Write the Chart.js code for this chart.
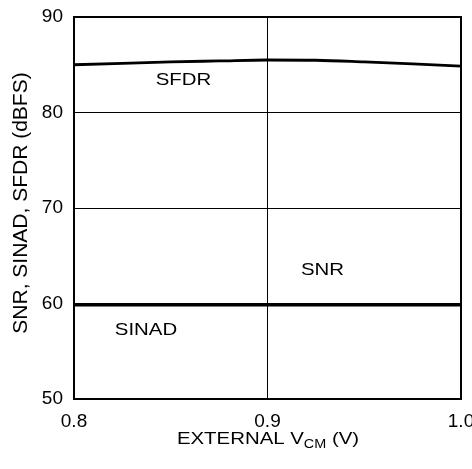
<!DOCTYPE html>
<html>
<head>
<meta charset="utf-8">
<script src="https://cdn.jsdelivr.net/npm/chart.js@4"></script>
<style>
  html, body { margin: 0; padding: 0; background: #fff; }
  canvas { display: block; }
</style>
</head>
<body>
<canvas id="snr-vcm" width="472" height="469"></canvas>
<script>
// values
const vcm = [0.80, 0.825, 0.85, 0.875, 0.90, 0.925, 0.95, 0.975, 1.00];
const sfdr = [85.0, 85.15, 85.3, 85.4, 85.5, 85.47, 85.3, 85.1, 84.85];
const snr = [59.9, 59.9, 59.9, 59.9, 59.9, 59.9, 59.9, 59.9, 59.9];
const sinad = [59.85, 59.85, 59.85, 59.85, 59.85, 59.85, 59.85, 59.85, 59.85];
const xTicks = [0.8, 0.9, 1.0];
const yTicks = [50, 60, 70, 80, 90];

// curve names written on the plot, at data coordinates
const curveLabels = [
  { text: 'SFDR', x: 0.8566, y: 83.4 },
  { text: 'SNR', x: 0.9284, y: 63.5 },
  { text: 'SINAD', x: 0.8372, y: 57.2 }
];

const FONT = "'Liberation Sans', Arial, Helvetica, sans-serif";

function points(xs, ys) {
  let out = [];
  for (let i = 0; i < xs.length; i++) {
    out.push({ x: xs[i], y: ys[i] });
  }
  return out;
}

// draws text a bit wider than the font, like the scanned figure
function wideText(ctx, text, x, y, size, stretch) {
  ctx.save();
  ctx.font = size + 'px ' + FONT;
  ctx.translate(x, y);
  ctx.scale(stretch, 1);
  ctx.fillText(text, 0, 0);
  ctx.restore();
}

const annotate = {
  id: 'annotate',
  afterDraw(chart) {
    const ctx = chart.ctx;
    const area = chart.chartArea;
    const xs = chart.scales.x;
    const ys = chart.scales.y;

    // frame
    ctx.save();
    ctx.strokeStyle = '#000';
    ctx.lineWidth = 2;
    ctx.strokeRect(area.left, area.top, area.right - area.left, area.bottom - area.top);
    ctx.restore();

    ctx.save();
    ctx.fillStyle = '#000';
    ctx.textAlign = 'center';
    ctx.textBaseline = 'middle';
    curveLabels.forEach(function (l) {
      wideText(ctx, l.text, xs.getPixelForValue(l.x), ys.getPixelForValue(l.y), 17, 1.2);
    });

    // y axis title
    ctx.save();
    ctx.translate(21, 203);
    ctx.rotate(-Math.PI / 2);
    ctx.font = '21px ' + FONT;
    ctx.fillText('SNR, SINAD, SFDR (dBFS)', 0, 0);
    ctx.restore();

    // x axis title with subscript
    ctx.textAlign = 'left';
    ctx.textBaseline = 'alphabetic';
    const st = 1.2;
    ctx.font = '17px ' + FONT;
    const w1 = ctx.measureText('EXTERNAL V').width * st;
    const w3 = ctx.measureText(' (V)').width * st;
    ctx.font = '12px ' + FONT;
    const w2 = ctx.measureText('CM').width * st;
    let x0 = 268 - (w1 + w2 + w3) / 2;
    wideText(ctx, 'EXTERNAL V', x0, 444, 17, st);
    wideText(ctx, 'CM', x0 + w1, 448, 12, st);
    wideText(ctx, ' (V)', x0 + w1 + w2, 444, 17, st);
    ctx.restore();
  }
};

const ctx = document.getElementById('snr-vcm');
new Chart(ctx, {
  type: 'line',
  data: {
    datasets: [{
      label: 'SFDR',
      data: points(vcm, sfdr),
      borderColor: '#000',
      borderWidth: 2.8,
      pointRadius: 0,
      cubicInterpolationMode: 'monotone'
    }, {
      label: 'SNR',
      data: points(vcm, snr),
      borderColor: '#000',
      borderWidth: 3,
      pointRadius: 0
    }, {
      label: 'SINAD',
      data: points(vcm, sinad),
      borderColor: '#000',
      borderWidth: 3,
      pointRadius: 0
    }]
  },
  options: {
    responsive: false,
    animation: false,
    devicePixelRatio: 1,
    layout: {
      padding: { top: 17, right: 11, left: 0, bottom: 0 }
    },
    plugins: {
      legend: { display: false },
      title: { display: false },
      tooltip: { enabled: false }
    },
    scales: {
      x: {
        type: 'linear',
        min: 0.8,
        max: 1.0,
        afterBuildTicks: function (scale) {
          scale.ticks = xTicks.map(function (v) { return { value: v }; });
        },
        afterFit: function (scale) {
          scale.height = 70;
          scale.paddingLeft = 0;
          scale.paddingRight = 0;
        },
        grid: { color: '#000', lineWidth: 1, drawTicks: false },
        border: { color: '#000', width: 2 },
        ticks: {
          color: '#000',
          padding: 11,
          maxRotation: 0,
          font: { family: FONT, size: 19 },
          callback: function (v) { return Number(v).toFixed(1); }
        }
      },
      y: {
        min: 50,
        max: 90,
        afterBuildTicks: function (scale) {
          scale.ticks = yTicks.map(function (v) { return { value: v }; });
        },
        afterFit: function (scale) {
          scale.width = 74;
          scale.paddingTop = 0;
          scale.paddingBottom = 0;
        },
        grid: { color: '#000', lineWidth: 1, drawTicks: false },
        border: { color: '#000', width: 2 },
        ticks: {
          color: '#000',
          padding: 11,
          font: { family: FONT, size: 19 }
        }
      }
    }
  },
  plugins: [annotate]
});
</script>
</body>
</html>
